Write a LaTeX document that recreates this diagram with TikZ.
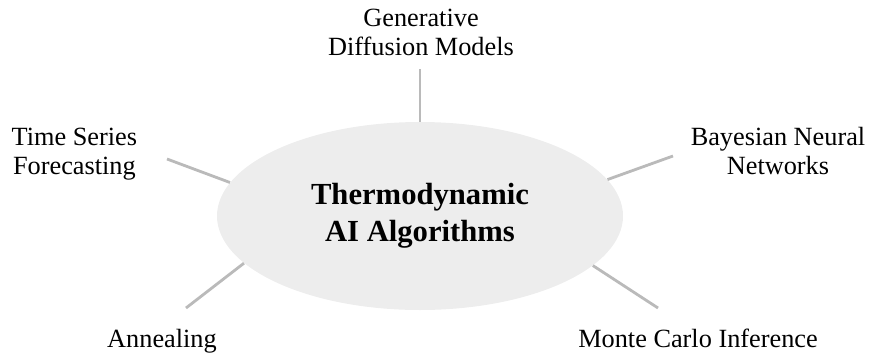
\documentclass[tikz,border=0pt]{standalone}
\usepackage{fontspec}
\setmainfont{Liberation Serif}
\usetikzlibrary{shapes.geometric}
\begin{document}
\begin{tikzpicture}
        % Styles
        \tikzstyle{spoke}=[draw=black!27,line width=2pt]
        \tikzstyle{topic}=[align=center,inner sep=0pt,font=\fontsize{18.7}{20.6}\selectfont]
        \tikzstyle{core}=[ellipse,fill=black!7,minimum width=10.15cm,minimum height=4.7cm,inner sep=0pt,align=center,font=\fontsize{21.8}{26.3}\selectfont\bfseries]
        %The graphic
        \useasboundingbox (0,0) rectangle (21.8,8.85);
        %centre
        \node[style=core] (algo) at (10.5,3.45) {Thermodynamic\\AI Algorithms};
        %topics
        \node[style=topic] (gen) at (10.525,8.04) {Generative\\Diffusion Models};
        \node[style=topic] (tsf) at (1.86,5.0) {Time Series\\Forecasting};
        \node[style=topic] (bnn) at (19.45,5.07) {Bayesian Neural\\Networks};
        \node[style=topic] (ann) at (4.05,0.325) {Annealing};
        \node[style=topic] (mci) at (17.45,0.4) {Monte Carlo Inference};
        %free ends of the spokes
        \coordinate (gen end) at (10.5,7.125);
        \coordinate (tsf end) at (4.175,4.875);
        \coordinate (bnn end) at (16.825,4.95);
        \coordinate (ann end) at (4.65,1.15);
        \coordinate (mci end) at (16.45,1.15);
        %spokes
        \draw[style=spoke] (gen end) -- (algo.north);
        \draw[style=spoke] (tsf end) -- (algo.170);
        \draw[style=spoke] (bnn end) -- (algo.11);
        \draw[style=spoke] (ann end) -- (algo.195);
        \draw[style=spoke] (mci end) -- (algo.344);
\end{tikzpicture}
\end{document}
